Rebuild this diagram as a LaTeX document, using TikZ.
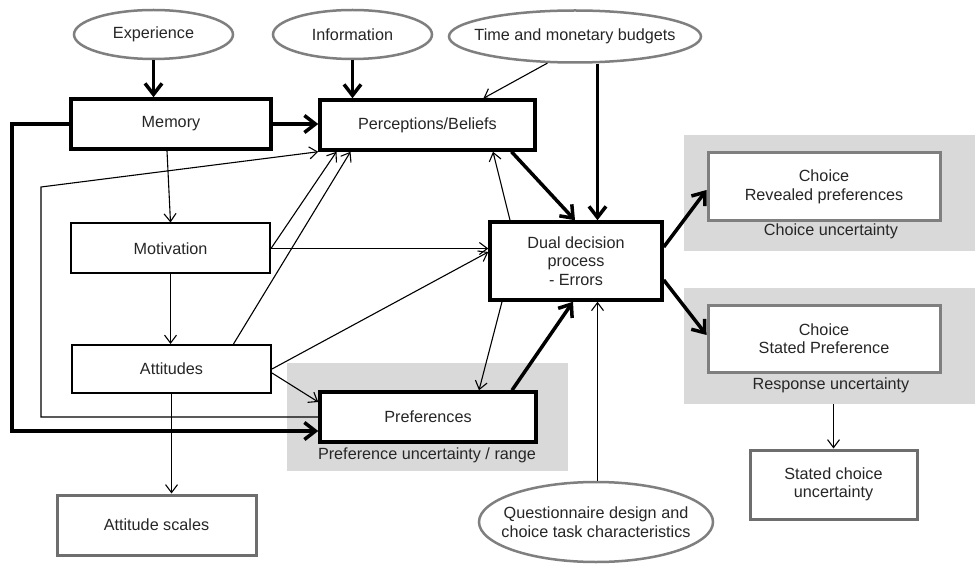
\documentclass[tikz,border=0pt]{standalone}
\usepackage{fontspec}
\setmainfont{Liberation Sans}
\usetikzlibrary{arrows.meta,shapes.geometric}
\definecolor{txt}{HTML}{262626}
\definecolor{shade}{HTML}{D9D9D9}
\definecolor{edgegray}{HTML}{7F7F7F}
\definecolor{darkedge}{HTML}{6E6E6E}
\begin{document}
\begin{tikzpicture}[x=1pt,y=-1pt,
  font=\fontsize{16.2}{18.5}\selectfont, text=txt,
  thickbox/.style={draw=black, line width=3.5pt, fill=white, inner sep=0pt, align=center},
  thinbox/.style={draw=black, line width=2pt, fill=white, inner sep=0pt, align=center},
  graybox/.style={draw=edgegray, line width=3pt, fill=white, inner sep=0pt, align=center},
  darkbox/.style={draw=darkedge, line width=3pt, fill=white, inner sep=0pt, align=center},
  ell/.style={ellipse, draw=edgegray, line width=2.5pt, fill=white, inner sep=0pt},
  region/.style={fill=shade, draw=none, inner sep=0pt},
  lbl/.style={inner sep=0pt},
  thickarrow/.style={line width=3.5pt, -{Straight Barb[length=11pt,width=17pt]}},
  thinarrow/.style={line width=1.1pt, -{Straight Barb[length=8pt,width=12pt]}}]
\useasboundingbox[fill=white] (0,0) rectangle (975,564);

% shaded regions
\node[region, minimum width=291pt, minimum height=116pt] (g1) at (829.5,193) {};
\node[region, minimum width=291pt, minimum height=116pt] (g2) at (829.5,346) {};
\node[region, minimum width=281pt, minimum height=108pt] (g3) at (427.5,417) {};

% ellipses
\node[ell, minimum width=159pt, minimum height=49pt, label=center:Experience] (exp) at (153.5,34.5) {};
\node[ell, minimum width=159pt, minimum height=49pt, label=center:Information] (info) at (352.5,34.5) {};
\node[ell, minimum width=252pt, minimum height=52pt, label=center:Time and monetary budgets] (time) at (575,36.5) {};
\node[ell, minimum width=234pt, minimum height=80pt,
  label={[align=center]center:Questionnaire design and\\choice task characteristics}] (quest) at (596,522) {};

% boxes
\node[thickbox, minimum width=200pt, minimum height=50pt] (mem) at (171,124) {Memory};
\node[thickbox, minimum width=215pt, minimum height=50pt] (perc) at (427.5,125) {Perceptions/Beliefs};
\node[thinbox, minimum width=199pt, minimum height=50pt] (mot) at (170.5,248.5) {Motivation};
\node[thinbox, minimum width=199pt, minimum height=48pt] (att) at (171.5,369) {Attitudes};
\node[thickbox, minimum width=216pt, minimum height=50pt] (pref) at (428,417) {Preferences};
\node[thickbox, minimum width=172pt, minimum height=78pt] (dual) at (576,261) {Dual decision\\process\\- Errors};
\node[darkbox, minimum width=199pt, minimum height=60pt] (scales) at (156.5,525) {Attitude scales};
\node[graybox, minimum width=232pt, minimum height=68pt] (rev) at (824,187) {Choice\\Revealed preferences};
\node[graybox, minimum width=232pt, minimum height=67pt] (stated) at (824,338.5) {Choice\\Stated Preference};
\node[darkbox, minimum width=167pt, minimum height=69pt] (scu) at (833.5,484.5) {Stated choice\\uncertainty};

% region labels
\node[lbl] (cu) at (831,231) {Choice uncertainty};
\node[lbl] (ru) at (831,385) {Response uncertainty};
\node[lbl] (pu) at (427,455) {Preference uncertainty / range};

% helper coordinates
\coordinate (tx) at (597.5,0);
\coordinate (lx) at (12,0);
\coordinate (tlx) at (41,187);

% thick arrows
\draw[thickarrow] (exp.south) -- (exp.south |- mem.north);
\draw[thickarrow] (info.south) -- (info.south |- perc.north);
\draw[thickarrow] (tx |- time.south) -- (tx |- dual.north);
\draw[thickarrow] (mem.east) -- (mem.east -| perc.west);
\draw[thickarrow] (mem.west) -- (mem.west -| lx) |- ([yshift=-14pt]pref.west);
\draw[thickarrow] ([xshift=84pt]perc.south) -- ([xshift=-1pt]dual.north);
\draw[thickarrow] ([xshift=84pt]pref.north) -- ([xshift=-3pt]dual.south);
\draw[thickarrow] ([yshift=14pt]dual.east) -- ([yshift=-3pt]rev.west);
\draw[thickarrow] ([yshift=-19pt]dual.east) -- ([yshift=3.5pt]stated.west);

% thin arrows
\draw[thinarrow] (time.224) -- ([xshift=56pt]perc.north);
\draw[thinarrow] ([xshift=-4pt]mem.south) -- (mot.north);
\draw[thinarrow] (pref.west) -| (tlx) -- (perc.south west);
\draw[thinarrow] (mot.east) -- ([xshift=-91pt]perc.south);
\draw[thinarrow] ([xshift=62pt]att.north) -- ([xshift=-77pt]perc.south);
\draw[thinarrow] (mot.east) -- (mot.east -| dual.west);
\draw[thinarrow] (att.east) -- ([yshift=9pt]dual.west);
\draw[thinarrow] ([yshift=-4pt]att.east) -- ([yshift=15pt]pref.west);
\draw[thinarrow] (att.south) -- (att.south |- scales.north);
\draw[thinarrow] (mot.south) -- (mot.south |- att.north);
\draw[thinarrow] ([xshift=-66pt]dual.north) -- ([xshift=65.5pt]perc.south);
\draw[thinarrow] ([xshift=-74pt]dual.south) -- ([xshift=51pt]pref.north);
\draw[thinarrow] (tx |- quest.north) -- (tx |- dual.south);
\draw[thinarrow] (scu.north |- g2.south) -- (scu.north);
\end{tikzpicture}
\end{document}
